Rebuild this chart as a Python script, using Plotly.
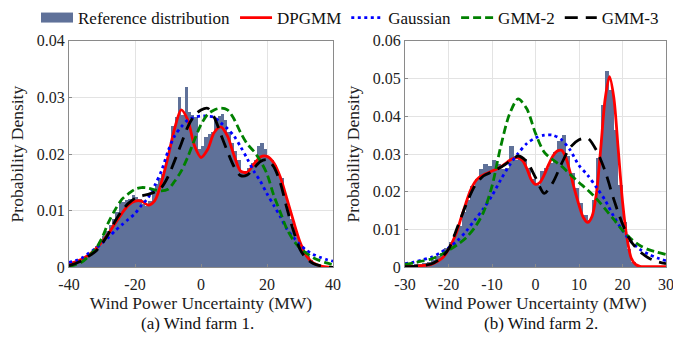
import plotly.graph_objects as go

# ---------------- data ----------------
# Wind farm 1: histogram, bins of 1 MW starting at -40
hist1 = [0.0005, 0.0007, 0.001, 0.0012, 0.0015, 0.002, 0.0025, 0.003, 0.0038, 0.0045,
         0.0055, 0.0065, 0.0075, 0.0085, 0.0098, 0.0118, 0.0115, 0.012, 0.0122, 0.0128,
         0.0125, 0.0122, 0.0112, 0.0108, 0.0118, 0.0135, 0.0148, 0.0158, 0.0165, 0.019,
         0.021, 0.025, 0.0265, 0.0302, 0.027, 0.0318, 0.0275, 0.027, 0.0265, 0.021,
         0.0215, 0.023, 0.0235, 0.024, 0.026, 0.0268, 0.0272, 0.026, 0.024, 0.022,
         0.0205, 0.019, 0.017, 0.0168, 0.0175, 0.0185, 0.019, 0.0215, 0.022, 0.021,
         0.0195, 0.019, 0.0182, 0.0165, 0.0158, 0.013, 0.0105, 0.0085, 0.007, 0.0052,
         0.004, 0.003, 0.002, 0.0013, 0.0008, 0.0005, 0.0003, 0.0002, 0.0001, 0.0001]
# Wind farm 1 curves, sampled every 2 MW from -40 to 40
dpgmm1 = [0.0006, 0.001, 0.0015, 0.0022, 0.0032, 0.0045, 0.006, 0.0078, 0.0095, 0.011,
          0.0117, 0.0117, 0.011, 0.0118, 0.015, 0.0195, 0.0245, 0.0278, 0.026, 0.0215,
          0.0194, 0.0208, 0.0238, 0.0248, 0.0232, 0.0198, 0.017, 0.0168, 0.0182, 0.0195,
          0.0196, 0.0185, 0.016, 0.0122, 0.0082, 0.0045, 0.002, 0.0008, 0.0003, 0.0001, 0.0]
gauss1 = [0.0009, 0.0012, 0.0017, 0.0025, 0.0033, 0.0043, 0.0053, 0.0065, 0.0075, 0.0085,
          0.0095, 0.011, 0.0123, 0.0145, 0.017, 0.0205, 0.0232, 0.0248, 0.026, 0.0265,
          0.0267, 0.0267, 0.0265, 0.0255, 0.0245, 0.0232, 0.0213, 0.0192, 0.017, 0.0152,
          0.013, 0.011, 0.009, 0.0068, 0.0053, 0.004, 0.003, 0.0023, 0.0018, 0.0014, 0.0011]
gmm2_1 = [0.0002, 0.0005, 0.001, 0.002, 0.0032, 0.0052, 0.008, 0.0102, 0.012, 0.013,
          0.0138, 0.0141, 0.014, 0.0137, 0.0135, 0.0138, 0.0152, 0.017, 0.0195, 0.0225,
          0.0252, 0.027, 0.0278, 0.0281, 0.0278, 0.0262, 0.0238, 0.0218, 0.0205, 0.0188,
          0.0165, 0.0128, 0.0098, 0.0068, 0.0048, 0.0034, 0.0025, 0.0017, 0.0012, 0.0008, 0.0005]
gmm3_1 = [0.0003, 0.0007, 0.0012, 0.002, 0.0028, 0.0042, 0.006, 0.0082, 0.01, 0.0113,
          0.0122, 0.0126, 0.0129, 0.0133, 0.0141, 0.016, 0.0188, 0.0218, 0.0248, 0.0268,
          0.0278, 0.0281, 0.0265, 0.0235, 0.0205, 0.0178, 0.0162, 0.0163, 0.0175, 0.0187,
          0.019, 0.0178, 0.015, 0.0105, 0.0065, 0.0032, 0.0015, 0.0007, 0.0003, 0.0001, 0.0]

# Wind farm 2: histogram, bins of 1 MW starting at -30
hist2 = [0.0008, 0.0008, 0.001, 0.001, 0.0012, 0.0015, 0.002, 0.003, 0.004, 0.0052,
         0.0068, 0.0088, 0.011, 0.0148, 0.018, 0.0215, 0.0235, 0.026, 0.0275, 0.0268,
         0.0285, 0.0275, 0.0262, 0.0265, 0.0322, 0.0285, 0.029, 0.0288, 0.0265, 0.0235,
         0.022, 0.0255, 0.0265, 0.0278, 0.0305, 0.0335, 0.035, 0.0295, 0.025, 0.021,
         0.017, 0.014, 0.0125, 0.018, 0.029, 0.043, 0.052, 0.047, 0.0365, 0.022,
         0.012, 0.005, 0.0015, 0.0005, 0.0003, 0.0002, 0.0001, 0.0001, 0.0, 0.0]
# Wind farm 2 DPGMM, every 1 MW from -30 to 30
dpgmm2 = [0.0002, 0.0003, 0.0003, 0.0004, 0.0005, 0.0006, 0.0008, 0.0013, 0.002, 0.003,
          0.0048, 0.007, 0.0098, 0.0135, 0.017, 0.0203, 0.0225, 0.0238, 0.0245, 0.025,
          0.0255, 0.026, 0.0266, 0.0274, 0.0283, 0.0289, 0.029, 0.0283, 0.0262, 0.0233,
          0.022, 0.0225, 0.0245, 0.0272, 0.0295, 0.0308, 0.031, 0.029, 0.025, 0.0205,
          0.0165, 0.0132, 0.0119, 0.0135, 0.0195, 0.0315, 0.0445, 0.0505, 0.045, 0.0315,
          0.0175, 0.008, 0.0025, 0.0008, 0.0003, 0.0002, 0.0002, 0.0002, 0.0002, 0.0002, 0.0002]
# Wind farm 2 other curves, every 2 MW from -30 to 30
gauss2 = [0.001, 0.0014, 0.002, 0.0027, 0.0038, 0.0052, 0.007, 0.0095, 0.0125, 0.0155,
          0.019, 0.0232, 0.027, 0.0302, 0.0328, 0.0343, 0.035, 0.035, 0.0338, 0.031,
          0.027, 0.0244, 0.0212, 0.0178, 0.0135, 0.0098, 0.0068, 0.0048, 0.0035, 0.0025, 0.0018]
gmm2_2 = [0.0008, 0.0012, 0.0017, 0.0022, 0.0032, 0.0045, 0.006, 0.0078, 0.0105, 0.0145,
          0.0215, 0.032, 0.0405, 0.0446, 0.042, 0.0355, 0.0305, 0.0285, 0.0268, 0.0246,
          0.0225, 0.0205, 0.0182, 0.0155, 0.0127, 0.0098, 0.0075, 0.0058, 0.0047, 0.004, 0.0034]
gmm3_2 = [0.0002, 0.0003, 0.0005, 0.0009, 0.0022, 0.0048, 0.0105, 0.0165, 0.0215, 0.0242,
          0.0253, 0.0265, 0.028, 0.0295, 0.028, 0.0238, 0.0196, 0.0225, 0.0275, 0.0318,
          0.0338, 0.0342, 0.031, 0.0255, 0.018, 0.0115, 0.0068, 0.0042, 0.0025, 0.0015, 0.001]

x1_ticks = [-40, -20, 0, 20, 40]
x1_labels = ["-40", "-20", "0", "20", "40"]
x2_ticks = [-30, -20, -10, 0, 10, 20, 30]
x2_labels = ["-30", "-20", "-10", "0", "10", "20", "30"]
y1_ticks = [0, 0.01, 0.02, 0.03, 0.04]
y1_labels = ["0", "0.01", "0.02", "0.03", "0.04"]
y2_ticks = [0, 0.01, 0.02, 0.03, 0.04, 0.05, 0.06]
y2_labels = ["0", "0.01", "0.02", "0.03", "0.04", "0.05", "0.06"]

series_names = ["Reference distribution", "DPGMM", "Gaussian", "GMM-2", "GMM-3"]
subtitles = ["(a) Wind farm 1.", "(b) Wind farm 2."]
x_title = "Wind Power Uncertainty (MW)"
y_title = "Probability Density"

# ---------------- styling ----------------
FONT = "Liberation Serif"
HIST_COLOR = "#5f7199"
RED, BLUE, GREEN, BLACK = "#ff0000", "#0000ff", "#008000", "#000000"
LW = 2.8
DASHES = ["solid", "3px,3.5px", "8px,4px", "13px,8px"]

fig = go.Figure()
fig.add_trace(go.Bar(y=hist1, x0=-39.5, dx=1, marker=dict(color=HIST_COLOR, line_width=0),
                     showlegend=False, xaxis="x", yaxis="y"))
fig.add_trace(go.Bar(y=hist2, x0=-29.5, dx=1, marker=dict(color=HIST_COLOR, line_width=0),
                     showlegend=False, xaxis="x2", yaxis="y2"))
# legend patch for the histogram
fig.add_trace(go.Scatter(x=[None], y=[None], mode="lines", name=series_names[0],
                         line=dict(color=HIST_COLOR, width=12), xaxis="x", yaxis="y"))

curves = [
    (dpgmm1, -40, 2, dpgmm2, -30, 1, series_names[1], RED, DASHES[0]),
    (gauss1, -40, 2, gauss2, -30, 2, series_names[2], BLUE, DASHES[1]),
    (gmm2_1, -40, 2, gmm2_2, -30, 2, series_names[3], GREEN, DASHES[2]),
    (gmm3_1, -40, 2, gmm3_2, -30, 2, series_names[4], BLACK, DASHES[3]),
]
for ya, xa0, dxa, yb, xb0, dxb, name, col, dash in curves:
    fig.add_trace(go.Scatter(y=ya, x0=xa0, dx=dxa, mode="lines", name=name,
                             line=dict(color=col, width=LW, dash=dash, shape="spline", smoothing=0.8),
                             xaxis="x", yaxis="y", showlegend=True))
    fig.add_trace(go.Scatter(y=yb, x0=xb0, dx=dxb, mode="lines", name=name,
                             line=dict(color=col, width=LW, dash=dash, shape="spline", smoothing=0.8),
                             xaxis="x2", yaxis="y2", showlegend=False))

W, H = 673, 338
ax_common = dict(showgrid=True, gridcolor="#e3e3e3", gridwidth=1, zeroline=False,
                 showline=True, linecolor="#8a8a8a", linewidth=1, mirror=True,
                 ticks="inside", ticklen=3, tickcolor="#8a8a8a", automargin=False,
                 ticklabeloverflow="allow",
                 tickfont=dict(family=FONT, size=16, color="#222"))
title_font = dict(family=FONT, size=17.5, color="#222")

fig.update_layout(
    width=W, height=H, margin=dict(l=0, r=0, t=0, b=0),
    paper_bgcolor="white", plot_bgcolor="white", bargap=0,
    font=dict(family=FONT, color="#222"),
    xaxis=dict(domain=[69 / W, 333 / W], range=[-40, 40], tickvals=x1_ticks, ticktext=x1_labels,
               ticklabelstandoff=2, title=dict(text=x_title, font=title_font, standoff=0),
               anchor="y", **ax_common),
    yaxis=dict(domain=[(H - 267) / H, (H - 39) / H], range=[0, 0.04], tickvals=y1_ticks, ticktext=y1_labels,
               title=dict(text=y_title, font=title_font, standoff=8), anchor="x", **ax_common),
    xaxis2=dict(domain=[405 / W, 666 / W], range=[-30, 30], tickvals=x2_ticks, ticktext=x2_labels,
                ticklabelstandoff=2, title=dict(text=x_title, font=title_font, standoff=0),
                anchor="y2", **ax_common),
    yaxis2=dict(domain=[(H - 267) / H, (H - 39) / H], range=[0, 0.06], tickvals=y2_ticks, ticktext=y2_labels,
                title=dict(text=y_title, font=title_font, standoff=8), anchor="x2", **ax_common),
    legend=dict(orientation="h", x=36 / W, xanchor="left", y=(H - 16) / H, yanchor="middle",
                font=dict(family=FONT, size=17, color="#111"), itemwidth=32,
                bgcolor="rgba(0,0,0,0)", tracegroupgap=0, itemsizing="trace"),
    annotations=[
        dict(text=subtitles[0], xref="paper", yref="paper", x=197 / W, y=(H - 323) / H,
             showarrow=False, font=dict(family=FONT, size=17, color="#111"), xanchor="center", yanchor="middle"),
        dict(text=subtitles[1], xref="paper", yref="paper", x=541 / W, y=(H - 323) / H,
             showarrow=False, font=dict(family=FONT, size=17, color="#111"), xanchor="center", yanchor="middle"),
    ],
)

fig.write_html("out.html")
